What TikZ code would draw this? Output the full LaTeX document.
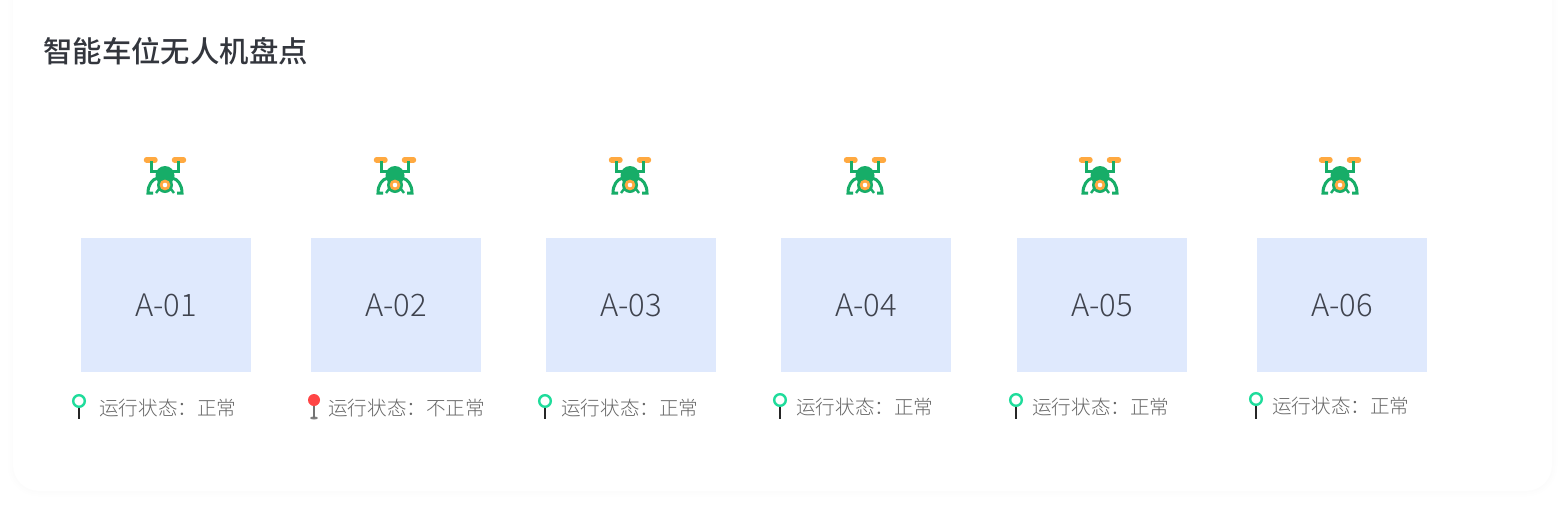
\documentclass[tikz,border=0pt]{standalone}
\usepackage{fontspec}
\setmainfont{Noto Sans CJK SC Medium}
\newfontfamily\cjklight{Noto Sans CJK SC Light}
\definecolor{dronegreen}{HTML}{17AD68}
\definecolor{droneorange}{HTML}{FFA940}
\definecolor{slotblue}{HTML}{DFE9FD}
\definecolor{pingreen}{HTML}{1FDC9B}
\definecolor{pinred}{HTML}{FF4545}
\definecolor{titlegray}{HTML}{33363D}
\definecolor{slottext}{HTML}{3F434E}
\definecolor{statetext}{HTML}{666666}
\tikzset{
  drone/.pic={
    % propellers
    \draw[droneorange,line width=5.4pt,line cap=round] (-18.5,-17) -- (-10,-17);
    \draw[droneorange,line width=5.4pt,line cap=round] (9.5,-17) -- (18.5,-17);
    % arms
    \draw[dronegreen,line width=3pt] (-13.5,-16) -- (-13.5,-5.5) -- (-4,-5.5);
    \draw[dronegreen,line width=3pt] (13.5,-16) -- (13.5,-5.5) -- (4,-5.5);
    % legs
    \draw[dronegreen,line width=3pt] (-7,1) .. controls (-13,2) and (-17,8) .. (-17,16) -- (-12,16);
    \draw[dronegreen,line width=3pt] (7,1) .. controls (13,2) and (17,8) .. (17,16) -- (12,16);
    \draw[dronegreen,line width=2.4pt] (-6,12) -- (-9,16);
    \draw[dronegreen,line width=2.4pt] (6,12) -- (9,16);
    % body and camera
    \fill[dronegreen] (0,-1.5) circle[radius=9.5];
    \fill[dronegreen] (0,8) circle[radius=8];
    \fill[droneorange] (0,8) circle[radius=5.4];
    \fill[white] (0,8) circle[radius=2.3];
  }
}
\begin{document}
\begin{tikzpicture}[x=1pt,y=-1pt]
  \tikzstyle{slot}=[fill=slotblue,minimum width=170pt,minimum height=134pt,inner sep=0pt,font=\cjklight\fontsize{31}{31}\selectfont,text=slottext]
  \tikzstyle{state}=[anchor=west,inner sep=0pt,font=\cjklight\fontsize{19.6}{20}\selectfont,text=statetext]
  \tikzstyle{title}=[anchor=west,inner sep=0pt,font=\fontsize{29.4}{30}\selectfont,text=titlegray]

  \useasboundingbox (0,0) rectangle (1566,512);
  \fill[white] (0,0) rectangle (1566,512);

  % card with a soft edge
  \foreach \w/\c in {10/0.5,6/0.8,2/1.2}
  \draw[black!\c,line width=\w pt,rounded corners=26pt] (13,-30) rectangle (1552,491);
  \fill[white,rounded corners=26pt] (13,-30) rectangle (1552,491);

  \node[title] (title) at (43,51) {智能车位无人机盘点};

  % slots, drones and their state
  \foreach \i/\x/\dx/\px/\lx/\ly/\s in {1/81/165/79/99/408/正常,2/311/395/314/328/408/不正常,3/546/630/545/561/408/正常,4/781/865/780/796/407/正常,5/1017/1100/1016/1032/407/正常,6/1257/1340/1256/1272/406/正常}
  {
    \node[slot] (S-\i) at (\x+85,305) {A-0\i};
    \pic at (\dx,177) {drone};
    \node[state] (L-\i) at (\lx,\ly) {运行状态：\s};
    \ifnum\i=2
      \fill[black!50] (\px,418) ellipse[x radius=4,y radius=1.5];
      \draw[black!55,line width=1.8pt] (\px,405) -- (\px,418);
      \fill[pinred] (\px,400) circle[radius=6];
    \else
      \draw[black!85,line width=1.5pt] (\px,406) -- (\px,419);
      \draw[pingreen,line width=2.4pt] (\px,\ly-7) circle[radius=5.8];
    \fi
  }
\end{tikzpicture}
\end{document}
